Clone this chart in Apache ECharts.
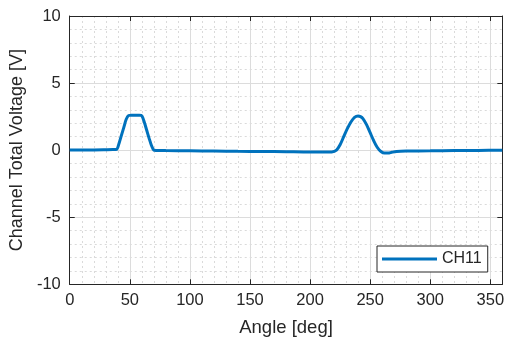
<!DOCTYPE html>
<html>
<head>
<meta charset="utf-8">
<script src="https://cdn.jsdelivr.net/npm/echarts@6/dist/echarts.min.js"></script>
<style>
html, body { margin: 0; padding: 0; background: #fff; }
#main { width: 507px; height: 347px; }
</style>
</head>
<body>
<div id="main"></div>
<script>
// angle [deg] and channel voltage [V]
var angles = [0, 10, 20, 30, 36, 39, 41, 43, 45, 47, 49, 51, 55, 58, 60, 62, 64, 66, 68, 70,
    72, 80, 100, 120, 140, 160, 180, 200, 210, 218, 222, 225, 228, 231, 234, 237, 240, 242,
    244, 247, 250, 253, 256, 259, 262, 265, 268, 272, 280, 300, 320, 340, 360];
var voltage = [0.02, 0.02, 0.02, 0.03, 0.04, 0.06, 0.5, 1.1, 1.7, 2.3, 2.58, 2.6, 2.6, 2.6, 2.55, 2.1, 1.5, 0.9, 0.35, 0.0,
    -0.02, -0.03, -0.05, -0.07, -0.09, -0.1, -0.12, -0.14, -0.14, -0.13, 0.0, 0.4, 1.0, 1.6, 2.1, 2.45, 2.55, 2.5,
    2.35, 1.9, 1.3, 0.7, 0.2, -0.1, -0.22, -0.22, -0.16, -0.1, -0.07, -0.05, -0.03, -0.02, 0.0];
var seriesName = 'CH11';

var txt = '#262626';
var font = 'Liberation Sans, Arial, sans-serif';

var myChart = echarts.init(document.getElementById('main'));

var pts = angles.map(function (a, i) { return [a, voltage[i]]; });

var minorGrid = { show: true, lineStyle: { color: '#dadada', type: [2, 3], width: 1 } };
var majorGrid = { show: true, lineStyle: { color: '#dcdcdc', width: 1 } };

var option = {
    backgroundColor: '#fff',
    animation: false,
    textStyle: { fontFamily: font },
    grid: { left: 67.5, right: 4.5, top: 16, bottom: 62.7 },
    legend: {
        data: [seriesName],
        left: 377, top: 246,
        icon: 'rect', itemWidth: 55, itemHeight: 3, itemGap: 4,
        padding: [5, 6, 5, 5],
        borderColor: txt, borderWidth: 1, borderRadius: 0,
        backgroundColor: '#fff',
        textStyle: { fontFamily: font, fontSize: 16, color: txt }
    },
    xAxis: [{
        type: 'value', min: 0, max: 360, interval: 50,
        name: 'Angle [deg]', nameLocation: 'middle', nameGap: 34,
        nameTextStyle: { fontSize: 18.5, color: txt, fontFamily: font },
        axisLine: { onZero: false, lineStyle: { color: txt } },
        axisTick: { inside: true, length: 5, lineStyle: { color: txt } },
        axisLabel: { fontSize: 16.5, color: txt, margin: 8, fontFamily: font },
        splitLine: majorGrid,
        minorTick: { show: false, splitNumber: 5 },
        minorSplitLine: minorGrid
    }, {
        type: 'value', min: 0, max: 360, interval: 50, position: 'top',
        axisLine: { show: true, onZero: false, lineStyle: { color: txt } },
        axisTick: { inside: true, length: 5, lineStyle: { color: txt } },
        axisLabel: { show: false },
        splitLine: { show: false }
    }],
    yAxis: [{
        type: 'value', min: -10, max: 10, interval: 5,
        name: 'Channel Total Voltage [V]', nameLocation: 'middle', nameGap: 35,
        nameTextStyle: { fontSize: 18, color: txt, fontFamily: font },
        axisLine: { show: true, onZero: false, lineStyle: { color: txt } },
        axisTick: { show: true, inside: true, length: 5, lineStyle: { color: txt } },
        axisLabel: { fontSize: 16.5, color: txt, margin: 9, fontFamily: font },
        splitLine: majorGrid,
        minorTick: { show: false, splitNumber: 5 },
        minorSplitLine: minorGrid
    }, {
        type: 'value', min: -10, max: 10, interval: 5, position: 'right',
        axisLine: { show: true, onZero: false, lineStyle: { color: txt } },
        axisTick: { show: true, inside: true, length: 5, lineStyle: { color: txt } },
        axisLabel: { show: false },
        splitLine: { show: false }
    }],
    series: [{
        name: seriesName,
        type: 'line',
        data: pts,
        showSymbol: false,
        symbol: 'none',
        smooth: 0.3,
        lineStyle: { color: '#0072BD', width: 3 },
        itemStyle: { color: '#0072BD' }
    }]
};

myChart.setOption(option);
</script>
</body>
</html>
